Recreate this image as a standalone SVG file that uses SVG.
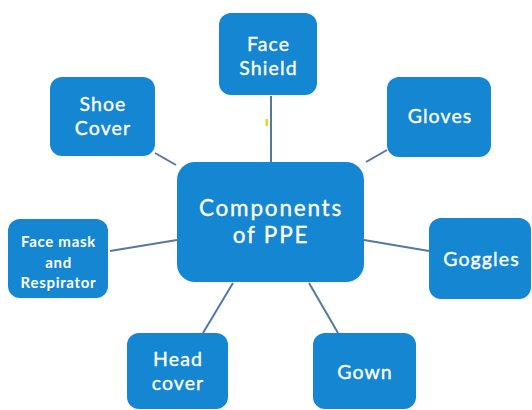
<svg xmlns="http://www.w3.org/2000/svg" width="532" height="410" viewBox="0 0 532 410">
  <style>
    .box { fill: #1586d1; }
    .lbl { fill: #ffffff; font-family: Lato, "Open Sans", "Liberation Sans", sans-serif; text-anchor: middle; stroke: #ffffff; stroke-width: 0.35; }
    .big { font-size: 22.5px; letter-spacing: 1.8px; }
    .mid { font-size: 19.5px; letter-spacing: 1.1px; }
    .small { font-size: 15px; font-weight: 700; stroke-width: 0; letter-spacing: 0.7px; }
    .link { stroke: #5478a2; stroke-width: 2; fill: none; }
  </style>
  <rect width="532" height="410" fill="#ffffff"/>

  <!-- spokes from the hub to each component -->
  <g id="connectors">
    <line class="link" x1="271" y1="96" x2="271" y2="162"/>
    <line class="link" x1="155" y1="153" x2="176" y2="165"/>
    <line class="link" x1="387" y1="150" x2="366" y2="162"/>
    <line class="link" x1="110" y1="251" x2="177" y2="240"/>
    <line class="link" x1="364" y1="240" x2="429" y2="251"/>
    <line class="link" x1="233" y1="283" x2="203" y2="333"/>
    <line class="link" x1="309" y1="283" x2="338" y2="333"/>
  </g>

  <!-- small yellow tick beside the top spoke -->
  <rect x="265.5" y="119" width="2.5" height="7" fill="#f2d21c"/>

  <g id="hub">
    <rect class="box" x="177" y="162" width="187" height="120" rx="18"/>
    <text class="lbl big" x="271" y="216">Components</text>
    <text class="lbl big" x="271" y="243">of PPE</text>
  </g>

  <g id="face-shield">
    <rect class="box" x="219" y="13" width="98" height="82" rx="12"/>
    <text class="lbl mid" x="268.5" y="51">Face</text>
    <text class="lbl mid" x="268.5" y="75">Shield</text>
  </g>

  <g id="shoe-cover">
    <rect class="box" x="50" y="77" width="105" height="79" rx="12"/>
    <text class="lbl mid" x="103" y="111">Shoe</text>
    <text class="lbl mid" x="103" y="135">Cover</text>
  </g>

  <g id="gloves">
    <rect class="box" x="387" y="77" width="104" height="80" rx="12"/>
    <text class="lbl mid" x="440" y="123">Gloves</text>
  </g>

  <g id="face-mask">
    <rect class="box" x="8" y="219" width="100" height="79" rx="12"/>
    <text class="lbl small" x="58.5" y="247">Face mask</text>
    <text class="lbl small" x="58.5" y="268">and</text>
    <text class="lbl small" x="58.5" y="288">Respirator</text>
  </g>

  <g id="goggles">
    <rect class="box" x="429" y="218" width="102" height="81" rx="12"/>
    <text class="lbl mid" x="481.5" y="266">Goggles</text>
  </g>

  <g id="head-cover">
    <rect class="box" x="127" y="333" width="101" height="76" rx="12"/>
    <text class="lbl mid" x="178" y="366">Head</text>
    <text class="lbl mid" x="178" y="390">cover</text>
  </g>

  <g id="gown">
    <rect class="box" x="313" y="333" width="103" height="76" rx="12"/>
    <text class="lbl mid" x="365" y="379">Gown</text>
  </g>
</svg>
